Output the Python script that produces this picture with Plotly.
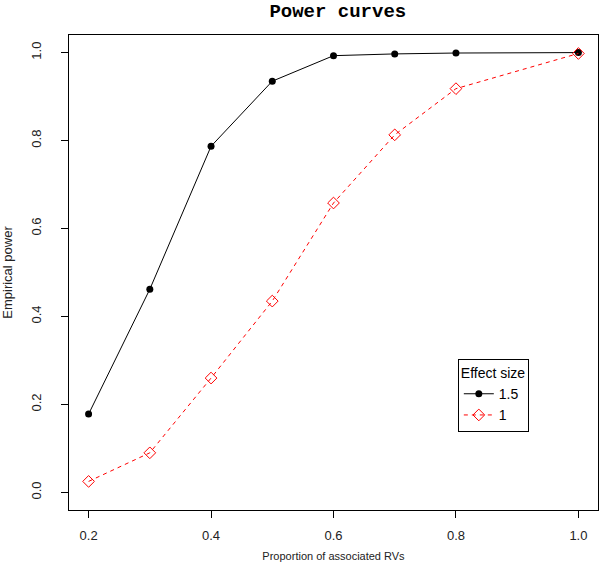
import plotly.graph_objects as go

proportion = [0.2, 0.3, 0.4, 0.5, 0.6, 0.7, 0.8, 1.0]
power_15 = [0.178, 0.462, 0.787, 0.935, 0.993, 0.997, 0.999, 1.0]
power_1 = [0.025, 0.090, 0.260, 0.435, 0.658, 0.813, 0.918, 0.998]
x_ticks = [0.2, 0.4, 0.6, 0.8, 1.0]
y_ticks = [0.0, 0.2, 0.4, 0.6, 0.8, 1.0]

fig = go.Figure()
fig.add_trace(go.Scatter(
    x=proportion, y=power_15, mode="lines+markers", name="1.5",
    line=dict(color="black", width=1),
    marker=dict(symbol="circle", size=7, color="black"),
    cliponaxis=False,
))
fig.add_trace(go.Scatter(
    x=proportion, y=power_1, mode="lines+markers", name="1",
    line=dict(color="red", width=1, dash="4px,4px"),
    marker=dict(symbol="diamond-open", size=9, color="red", line=dict(width=1)),
    cliponaxis=False,
))

axis_common = dict(
    showgrid=False, zeroline=False, showline=True, linecolor="black", linewidth=1,
    mirror=True, ticks="outside", ticklen=7, tickcolor="black", tickwidth=1,
    tickfont=dict(family="Liberation Sans", size=13, color="#222"),
    automargin=False,
)
fig.update_xaxes(range=[0.168, 1.032], tickvals=x_ticks, ticktext=["0.2", "0.4", "0.6", "0.8", "1.0"],
                 ticklabelstandoff=6,
                 title=dict(text="Proportion of associated RVs", font=dict(family="Liberation Sans", size=11, color="#222"), standoff=10),
                 **axis_common)
fig.update_yaxes(range=[-0.04, 1.04], tickvals=y_ticks, ticktext=["0.0", "0.2", "0.4", "0.6", "0.8", "1.0"],
                 tickangle=-90, ticklabelstandoff=15,
                 title=dict(text="Empirical power", font=dict(family="Liberation Sans", size=13, color="#222"), standoff=13),
                 **axis_common)

fig.update_layout(
    width=600, height=569,
    margin=dict(l=69, r=2, t=35, b=59),
    plot_bgcolor="white", paper_bgcolor="white",
    title=dict(text="<b>Power curves</b>", x=0.563, xanchor="center", y=0.981, yanchor="middle",
               font=dict(family="Liberation Mono", size=19, color="black")),
    legend=dict(
        title=dict(text="Effect size", font=dict(family="Liberation Sans", size=14, color="black")),
        font=dict(family="Liberation Sans", size=14, color="black"),
        x=0.735, y=0.318, xanchor="left", yanchor="top",
        bordercolor="black", borderwidth=1, bgcolor="white",
        tracegroupgap=0, itemwidth=30,
    ),
)

fig.write_html("out.html", config={"displayModeBar": False},
               post_script="document.body.style.margin='0';")
